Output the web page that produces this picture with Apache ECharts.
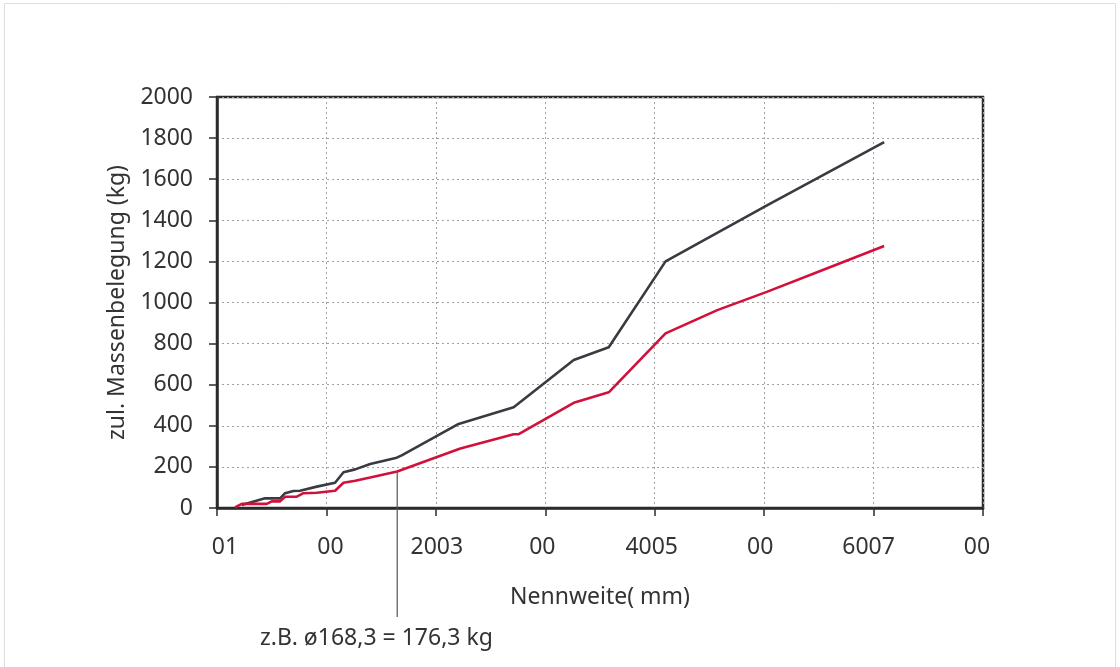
<!DOCTYPE html>
<html>
<head>
<meta charset="utf-8">
<script src="https://cdn.jsdelivr.net/npm/echarts@6/dist/echarts.min.js"></script>
<style>
html,body{margin:0;padding:0;background:#fff;}
#c{width:1120px;height:667px;}
</style>
</head>
<body>
<div id="c"></div>
<script>
// x values (Nennweite, mm) and y values (zul. Massenbelegung, kg)
const darkX = [22.6, 43.9, 57.6, 62.2, 69.8, 75.9, 91.2, 107.9, 115.6, 126.3, 140, 164.2, 168.8, 220.8, 271.1, 326, 358, 409.9, 503, 609.7];
const darkY = [15, 47, 47, 72, 83, 84, 104, 123, 174, 188, 214, 245, 256, 409, 490, 720, 782, 1200, 1474, 1780];
const redX = [16.5, 22.6, 45.5, 50, 57.6, 62.2, 72.9, 79, 91.2, 107.9, 115.6, 126.3, 140, 164.7, 222.4, 271.1, 275.7, 326, 358, 409.9, 457.2, 503, 554.8, 609.7];
const redY = [3, 20, 20, 32, 32, 55, 55, 72, 74, 84, 123, 133, 148, 178, 290, 359, 359, 512, 563, 850, 963, 1053, 1161, 1275];
const xTickLabels = ['01', '00', '2003', '00', '4005', '00', '6007', '00'];
const yTicks = [0, 200, 400, 600, 800, 1000, 1200, 1400, 1600, 1800, 2000];
const annotation = {x: 164.7, y: 178, text: 'z.B. ø168,3 = 176,3 kg'};
const xName = 'Nennweite( mm)';
const yName = 'zul. Massenbelegung (kg)';

const pair = (xs, ys) => xs.map((x, i) => [x, ys[i]]);
const FONT = 'Noto Sans';
const TXT = '#333';
// small horizontal shifts of the x tick labels as they sit in the reference
const labelShift = [8, 4, 1, -3, -3, -4, -5, -6];
const rich = {};
labelShift.forEach((s, i) => {
  rich['l' + i] = {fontSize: 23, color: TXT, fontFamily: FONT,
    padding: s >= 0 ? [0, 0, 0, 2 * s] : [0, -2 * s, 0, 0]};
});

const chart = echarts.init(document.getElementById('c'), null, {renderer: 'canvas'});
chart.setOption({
  animation: false,
  backgroundColor: '#fff',
  textStyle: {fontFamily: FONT},
  grid: {left: 217, right: 137, top: 97, bottom: 159, show: true, borderColor: '#2b2b2b', borderWidth: 2.5, backgroundColor: 'transparent'},
  xAxis: {
    type: 'value', min: 0, max: 700, interval: 100,
    name: xName, nameLocation: 'middle', nameGap: 78,
    nameTextStyle: {fontSize: 23, color: TXT, fontFamily: FONT},
    axisLine: {show: true, lineStyle: {color: '#2b2b2b', width: 2.5}},
    axisTick: {show: true, length: 8, lineStyle: {color: '#2b2b2b', width: 1.5}},
    axisLabel: {fontSize: 23, color: TXT, margin: 28, fontFamily: FONT, rich: rich,
      formatter: v => {
        const i = Math.round(v / 100);
        return xTickLabels[i] !== undefined ? '{l' + i + '|' + xTickLabels[i] + '}' : '';
      }},
    splitLine: {show: true, lineStyle: {color: '#a0a0a0', type: [2, 3], width: 1}}
  },
  yAxis: {
    type: 'value', min: 0, max: 2000, interval: 200,
    name: yName, nameLocation: 'middle', nameGap: 88,
    nameTextStyle: {fontSize: 23, color: TXT, fontFamily: FONT},
    axisLine: {show: true, lineStyle: {color: '#2b2b2b', width: 2.5}},
    axisTick: {show: true, length: 8, lineStyle: {color: '#2b2b2b', width: 1.5}},
    axisLabel: {fontSize: 23, color: TXT, margin: 24, fontFamily: FONT,
      formatter: v => yTicks.includes(v) ? String(v) : ''},
    splitLine: {show: true, lineStyle: {color: '#a0a0a0', type: [2, 3], width: 1}}
  },
  series: [
    {type: 'line', data: pair(darkX, darkY), symbol: 'none', lineStyle: {color: '#3a3a42', width: 2.6}, z: 3},
    {type: 'line', data: pair(redX, redY), symbol: 'none', lineStyle: {color: '#d2103c', width: 2.6}, z: 4}
  ]
});

const p = chart.convertToPixel({gridIndex: 0}, [annotation.x, annotation.y]);
chart.setOption({
  graphic: [
    {type: 'line', shape: {x1: p[0], y1: p[1], x2: p[0], y2: 617}, style: {stroke: '#555', lineWidth: 1.2}, z: 10},
    {type: 'text', left: 260, top: 627, style: {text: annotation.text, font: '23px "Noto Sans"', fill: TXT}},
    {type: 'polyline', shape: {points: [[4.5, 700], [4.5, 3.5], [1115.5, 3.5], [1115.5, 700]]}, style: {stroke: '#dedede', lineWidth: 1, fill: null}}
  ]
});
</script>
</body>
</html>
